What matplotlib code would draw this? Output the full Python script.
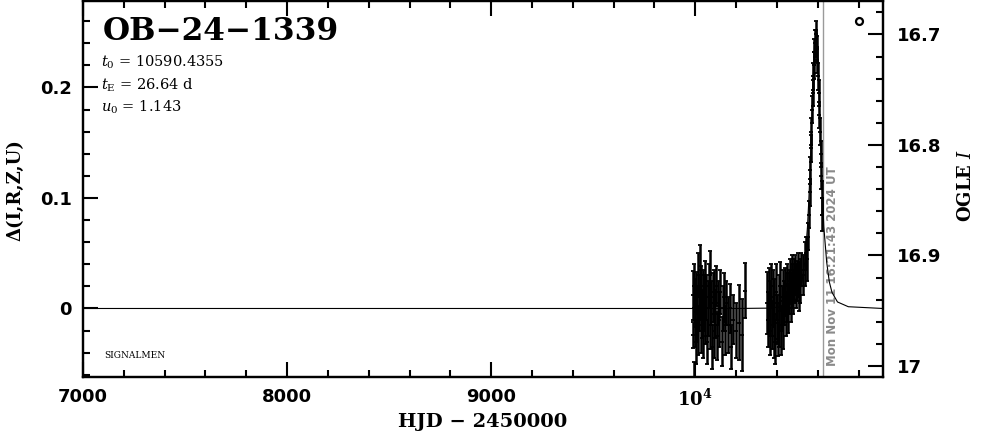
import matplotlib
matplotlib.use('Agg')
import matplotlib.pyplot as plt
from matplotlib.ticker import MultipleLocator, FixedLocator

# Photometry: HJD-2450000, delta mag, error
obs_t = [9988, 9990, 9993, 9995, 9997, 10000, 10003, 10006, 10009, 10012,
         10015, 10018, 10021, 10024, 10027, 10030, 10034, 10037, 10040, 10044,
         10047, 10050, 10054, 10058, 10062, 10066, 10070, 10074, 10078, 10082,
         10086, 10090, 10094, 10098, 10103, 10108, 10113, 10118, 10123, 10129,
         10135, 10141, 10147, 10153, 10160, 10168, 10176, 10186, 10198, 10212,
         10228, 10244,
         10352, 10356, 10360, 10364, 10368, 10372, 10376, 10380, 10384, 10388,
         10392, 10396, 10400, 10404, 10408, 10412, 10416, 10420, 10424, 10428,
         10432, 10436, 10440, 10444, 10448, 10452, 10456, 10460, 10464, 10468,
         10472, 10476, 10480, 10485, 10490, 10495, 10500, 10505, 10510, 10515,
         10520, 10528, 10536, 10544,
         10550, 10554, 10557, 10560, 10563, 10566, 10569, 10572, 10575, 10578,
         10581, 10584, 10587, 10590, 10593, 10596, 10599, 10602, 10605, 10608,
         10611, 10614, 10617, 10620, 10622]
obs_dmag = [0.012, -0.024, -0.068, 0.020, -0.010, 0.005, -0.030, 0.015, -0.005, 0.030,
            -0.020, 0.000, 0.035, 0.010, -0.015, 0.020, -0.005, 0.015, -0.025, 0.005,
            0.025, -0.010, 0.010, -0.030, 0.000, 0.020, -0.015, 0.030, 0.005, -0.035,
            0.010, -0.020, 0.015, -0.005, 0.020, -0.025, 0.005, -0.010, 0.015, -0.030,
            0.000, 0.010, -0.020, 0.005, -0.015, 0.000, -0.035, -0.010, -0.020, -0.013,
            -0.024, 0.016,
            0.005, -0.010, 0.015, -0.020, 0.000, 0.020, -0.015, 0.010, -0.025, 0.005,
            -0.030, 0.015, -0.010, -0.028, 0.005, -0.015, 0.020, -0.020, 0.000, 0.010,
            -0.015, 0.005, 0.015, -0.005, 0.010, 0.020, 0.000, 0.015, 0.025, 0.010,
            0.020, 0.030, 0.015, 0.025, 0.030, 0.020, 0.025, 0.030, 0.020, 0.025,
            0.035, 0.030, 0.040, 0.050,
            0.045, 0.065, 0.085, 0.105, 0.125, 0.145, 0.160, 0.180, 0.195, 0.210,
            0.220, 0.232, 0.240, 0.248, 0.240, 0.235, 0.225, 0.210, 0.195, 0.175,
            0.160, 0.140, 0.120, 0.100, 0.085]
obs_err = [0.022, 0.012, 0.020, 0.020, 0.025, 0.022, 0.020, 0.018, 0.025, 0.020,
           0.022, 0.020, 0.022, 0.020, 0.025, 0.018, 0.022, 0.020, 0.020, 0.025,
           0.018, 0.022, 0.020, 0.020, 0.025, 0.020, 0.022, 0.022, 0.020, 0.020,
           0.022, 0.025, 0.020, 0.022, 0.018, 0.022, 0.020, 0.025, 0.020, 0.022,
           0.020, 0.022, 0.022, 0.020, 0.025, 0.022, 0.020, 0.022, 0.025, 0.034,
           0.033, 0.025,
           0.028, 0.025, 0.022, 0.022, 0.025, 0.020, 0.022, 0.025, 0.020, 0.022,
           0.020, 0.025, 0.022, 0.015, 0.025, 0.020, 0.022, 0.022, 0.020, 0.025,
           0.022, 0.020, 0.022, 0.020, 0.022, 0.020, 0.022, 0.020, 0.020, 0.022,
           0.020, 0.018, 0.020, 0.020, 0.018, 0.020, 0.018, 0.020, 0.022, 0.020,
           0.015, 0.018, 0.020, 0.015,
           0.020, 0.012, 0.012, 0.012, 0.012, 0.012, 0.012, 0.012, 0.012, 0.012,
           0.012, 0.012, 0.012, 0.012, 0.012, 0.012, 0.012, 0.012, 0.012, 0.012,
           0.012, 0.012, 0.012, 0.015, 0.015]

# Model light curve
model_t = [7000, 10200, 10350, 10430, 10470, 10490, 10510, 10523, 10537, 10550,
           10557, 10564, 10570, 10577, 10584, 10590.4, 10597, 10604, 10611, 10617,
           10624, 10630, 10644, 10657, 10670, 10697, 10750, 10920]
model_dmag = [0.0, 0.0, 0.0003, 0.0016, 0.004, 0.0073, 0.0146, 0.024, 0.042, 0.074,
              0.100, 0.132, 0.166, 0.206, 0.237, 0.247, 0.237, 0.206, 0.166, 0.132,
              0.100, 0.074, 0.042, 0.024, 0.0146, 0.0059, 0.0016, 0.0]

x_ticks = [7000, 8000, 9000, 10000]
x_ticklabels = ['7000', '8000', '9000', r'$\mathbf{10^4}$']
y_ticks = [0, 0.1, 0.2]
y_ticklabels = ['0', '0.1', '0.2']
mag_ticks = [16.7, 16.8, 16.9, 17.0]
mag_ticklabels = ['16.7', '16.8', '16.9', '17']
base_mag = 16.948
now_hjd = 10626.18

plt.rcParams['mathtext.fontset'] = 'dejavuserif'

fig = plt.figure(figsize=(9.86, 4.34), dpi=100)
ax = fig.add_axes([83 / 986, 57 / 434, 800 / 986, 376.5 / 434])

ax.errorbar(obs_t, obs_dmag, yerr=obs_err, fmt='_', color='black', ms=3,
            mew=1.3, elinewidth=1.8, capsize=1.2, zorder=3)
ax.plot(model_t, model_dmag, color='black', lw=0.8, zorder=4)
ax.axvline(now_hjd, color='#9a9a9a', lw=1.0, zorder=2)
ax.text(10640, -0.052, 'Mon Nov 11 16:21:43 2024 UT', rotation=90,
        color='#8a8a8a', fontsize=8.5, fontweight='bold', ha='left', va='bottom')
ax.plot([10800], [0.26], marker='o', mfc='none', mec='black', ms=5, mew=1.6)

ax.set_xlim(7000, 10920)
ax.set_ylim(-0.062, 0.2787)
ax.xaxis.set_major_locator(FixedLocator(x_ticks))
ax.set_xticklabels(x_ticklabels)
ax.xaxis.set_minor_locator(MultipleLocator(200))
ax.yaxis.set_major_locator(FixedLocator(y_ticks))
ax.set_yticklabels(y_ticklabels)
ax.yaxis.set_minor_locator(MultipleLocator(0.02))
ax.tick_params(which='both', direction='in', width=1.5, top=True, right=False,
               labelsize=13, pad=8)
ax.tick_params(which='major', length=11)
ax.tick_params(which='minor', length=5)
for lab in ax.get_xticklabels() + ax.get_yticklabels():
    lab.set_fontweight('bold')

ax2 = ax.twinx()
ax2.set_ylim(base_mag + 0.062, base_mag - 0.2787)
ax2.yaxis.set_major_locator(FixedLocator(mag_ticks))
ax2.set_yticklabels(mag_ticklabels)
ax2.yaxis.set_minor_locator(MultipleLocator(0.02))
ax2.tick_params(which='both', direction='in', width=1.5, labelsize=13, pad=10)
ax2.tick_params(which='major', length=11)
ax2.tick_params(which='minor', length=5)
for lab in ax2.get_yticklabels():
    lab.set_fontweight('bold')

for a in (ax, ax2):
    for sp in a.spines.values():
        sp.set_linewidth(1.6)

ax.set_xlabel('HJD − 2450000', family='DejaVu Serif', fontweight='bold',
              fontsize=14, labelpad=3)
fig.text(15 / 986, 1 - 190 / 434, 'Δ(I,R,Z,U)', rotation=90, family='DejaVu Serif',
         fontweight='bold', fontsize=13, ha='center', va='center')
fig.text(966 / 986, 1 - 185 / 434, r'OGLE $\it{I}$', rotation=90, family='DejaVu Serif',
         fontweight='bold', fontsize=13, ha='center', va='center')

ax.text(0.025, 0.96, 'OB−24−1339', transform=ax.transAxes, family='DejaVu Serif',
        fontweight='bold', fontsize=22.5, ha='left', va='top')
ax.text(0.0225, 0.837, r'$t_0$ = 10590.4355', transform=ax.transAxes,
        family='DejaVu Serif', fontsize=10.5, ha='left', va='center')
ax.text(0.0225, 0.776, r'$t_{\rm E}$ = 26.64 d', transform=ax.transAxes,
        family='DejaVu Serif', fontsize=10.5, ha='left', va='center')
ax.text(0.0225, 0.717, r'$u_0$ = 1.143', transform=ax.transAxes,
        family='DejaVu Serif', fontsize=10.5, ha='left', va='center')
ax.text(0.026, 0.058, 'SIGNALMEN', transform=ax.transAxes,
        family='DejaVu Serif', fontsize=6.5, ha='left', va='center')

fig.savefig('out.png', dpi=100)
